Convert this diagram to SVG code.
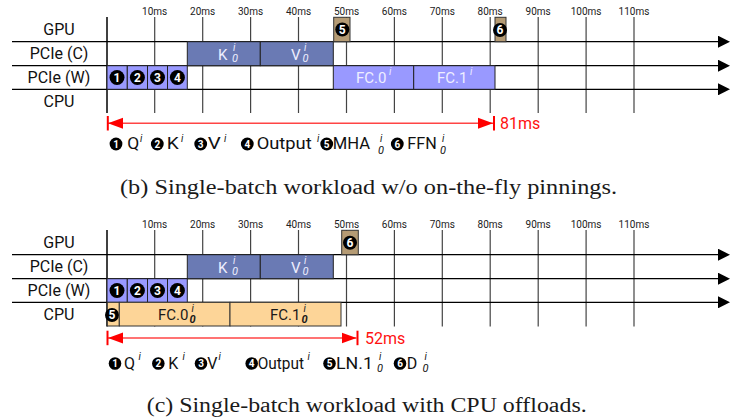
<svg xmlns="http://www.w3.org/2000/svg" width="732" height="420" viewBox="0 0 732 420">
<style>
text{font-family:Roboto,"Liberation Sans",sans-serif}
.tick{font-size:10px;fill:#222;text-anchor:middle}
.row{font-size:16px;fill:#111;text-anchor:middle}
.grid{stroke:#444;stroke-width:1.2}
.axis{stroke:#000;stroke-width:1.5}
.rowline{stroke:#000;stroke-width:1.3;marker-end:url(#ah)}
.pw{fill:#9999ff;stroke:#222;stroke-width:1}
.pc{fill:#6a7ab4;stroke:#222;stroke-width:1}
.gpu{fill:#b59b74;stroke:#333;stroke-width:1}
.cpu{fill:#fdd598;stroke:#333;stroke-width:1}
.num{fill:#fff;font-weight:bold;font-size:12px;text-anchor:middle}
.lnum{fill:#fff;font-weight:bold;font-size:10px;text-anchor:middle}
.wl{fill:#eef;font-size:15px}
.bl{fill:#1a1a1a;font-size:15px}
.leg{font-size:16px;fill:#111}
text.sup{font-size:10px;font-style:italic}
text.sub{font-size:11px;font-style:italic}
text.bsub{font-size:11px;font-style:italic;font-weight:bold}
.red{stroke:#f44;stroke-width:1.5;marker-start:url(#rh);marker-end:url(#rh)}
.bar{stroke:#f00;stroke-width:2}
.redt{fill:#f11;font-size:16px}
.cap{font-family:"Liberation Serif",serif;font-size:20px;fill:#1a1a1a}
</style>
<defs>
<marker id="ah" markerUnits="userSpaceOnUse" markerWidth="12" markerHeight="12" refX="0" refY="6" orient="auto">
<path d="M0,0 L12,6 L0,12 Z" fill="#000"/>
</marker>
<marker id="rh" markerUnits="userSpaceOnUse" markerWidth="15" markerHeight="12" refX="15" refY="6" orient="auto-start-reverse">
<path d="M0,0.5 L15,6 L0,11.5 Z" fill="#f00"/>
</marker>
</defs>

<!-- ===== Chart (b) ===== -->
<g id="axes-b">
<g class="tick">
<text x="154.7" y="14.5">10ms</text><text x="202.7" y="14.5">20ms</text><text x="250.6" y="14.5">30ms</text>
<text x="298.5" y="14.5">40ms</text><text x="346.5" y="14.5">50ms</text><text x="394.4" y="14.5">60ms</text>
<text x="442.3" y="14.5">70ms</text><text x="490.2" y="14.5">80ms</text><text x="538.2" y="14.5">90ms</text>
<text x="586.1" y="14.5">100ms</text><text x="634" y="14.5">110ms</text>
</g>
<g class="grid">
<line x1="154.7" y1="17" x2="154.7" y2="113"/><line x1="202.7" y1="17" x2="202.7" y2="113"/>
<line x1="250.6" y1="17" x2="250.6" y2="113"/><line x1="298.5" y1="17" x2="298.5" y2="113"/>
<line x1="346.5" y1="17" x2="346.5" y2="113"/><line x1="394.4" y1="17" x2="394.4" y2="113"/>
<line x1="442.3" y1="17" x2="442.3" y2="113"/><line x1="490.2" y1="17" x2="490.2" y2="113"/>
<line x1="538.2" y1="17" x2="538.2" y2="113"/><line x1="586.1" y1="17" x2="586.1" y2="113"/>
<line x1="634" y1="17" x2="634" y2="113"/>
</g>
<line class="axis" x1="107" y1="17" x2="107" y2="113"/>
<line class="rowline" x1="12" y1="41.7" x2="718" y2="41.7"/>
<line class="rowline" x1="12" y1="65.7" x2="718" y2="65.7"/>
<line class="rowline" x1="12" y1="89.3" x2="718" y2="89.3"/>
<g class="row">
<text x="59" y="35">GPU</text><text x="59" y="59.3">PCIe (C)</text>
<text x="59" y="83.3">PCIe (W)</text><text x="59" y="106.7">CPU</text>
</g>
</g>

<g id="b-w1"><rect class="pw" x="107" y="65.7" width="20.3" height="23.6"/><circle cx="117" cy="77.5" r="7.5"/><text class="num" x="117" y="81.8">1</text></g>
<g id="b-w2"><rect class="pw" x="127.3" y="65.7" width="20.2" height="23.6"/><circle cx="137.4" cy="77.5" r="7.5"/><text class="num" x="137.4" y="81.8">2</text></g>
<g id="b-w3"><rect class="pw" x="147.5" y="65.7" width="20" height="23.6"/><circle cx="157.5" cy="77.5" r="7.5"/><text class="num" x="157.5" y="81.8">3</text></g>
<g id="b-w4"><rect class="pw" x="167.5" y="65.7" width="19.8" height="23.6"/><circle cx="177.4" cy="77.5" r="7.5"/><text class="num" x="177.4" y="81.8">4</text></g>
<g id="b-k"><rect class="pc" x="187.3" y="41.7" width="73" height="24"/><text class="wl" x="218" y="59.5">K</text><text class="wl sup" x="233" y="51">i</text><text class="wl sub" x="232" y="62">0</text></g>
<g id="b-v"><rect class="pc" x="260.3" y="41.7" width="73" height="24"/><text class="wl" x="291" y="59.5">V</text><text class="wl sup" x="304" y="51">i</text><text class="wl sub" x="302.5" y="62">0</text></g>
<g id="b-fc0"><rect class="pw" x="333.3" y="65.7" width="80.4" height="23.6"/><text class="wl" x="356" y="83">FC.0</text><text class="wl sup" x="389" y="75">i</text></g>
<g id="b-fc1"><rect class="pw" x="413.7" y="65.7" width="81.3" height="23.6"/><text class="wl" x="437" y="83">FC.1</text><text class="wl sup" x="470" y="75">i</text></g>
<g id="b-g5"><rect class="gpu" x="333.7" y="17.3" width="16.3" height="24.4"/><circle cx="342.3" cy="29.5" r="7"/><text class="num" x="342.3" y="33.8">5</text></g>
<g id="b-g6"><rect class="gpu" x="495" y="17.3" width="11" height="24.4"/><circle cx="500" cy="30" r="7"/><text class="num" x="500" y="34.3">6</text></g>

<g id="connectors">
<line class="red" x1="108" y1="123.3" x2="493" y2="123.3"/>
<line class="bar" x1="107.8" y1="116" x2="107.8" y2="130.5"/>
<line class="bar" x1="494" y1="116" x2="494" y2="130.5"/>
<line class="red" x1="108" y1="338" x2="356.5" y2="338"/>
<line class="bar" x1="107.5" y1="330.7" x2="107.5" y2="345.2"/>
<line class="bar" x1="357.5" y1="330.7" x2="357.5" y2="345.2"/>
</g>
<text class="redt" x="500" y="129">81ms</text>
<text class="redt" x="365" y="343.5">52ms</text>

<g id="legend-b">
<circle cx="116" cy="144" r="6.4"/><text class="lnum" x="116" y="147.6">1</text>
<text class="leg" x="127.3" y="149" textLength="12" lengthAdjust="spacingAndGlyphs">Q</text><text class="leg sup" x="140" y="142">i</text>
<circle cx="157.3" cy="144" r="6.4"/><text class="lnum" x="157.3" y="147.6">2</text>
<text class="leg" x="166.7" y="149" textLength="12" lengthAdjust="spacingAndGlyphs">K</text><text class="leg sup" x="181" y="142">i</text>
<circle cx="200.7" cy="144" r="6.4"/><text class="lnum" x="200.7" y="147.6">3</text>
<text class="leg" x="207.7" y="149" textLength="13" lengthAdjust="spacingAndGlyphs">V</text><text class="leg sup" x="224" y="142">i</text>
<circle cx="247.3" cy="144" r="6.4"/><text class="lnum" x="247.3" y="147.6">4</text>
<text class="leg" x="256.7" y="149" textLength="55" lengthAdjust="spacingAndGlyphs">Output</text><text class="leg sup" x="317" y="142">i</text>
<circle cx="326.7" cy="144" r="6.4"/><text class="lnum" x="326.7" y="147.6">5</text>
<text class="leg" x="332.7" y="149" textLength="37.3" lengthAdjust="spacingAndGlyphs">MHA</text><text class="leg sup" x="380" y="142">i</text><text class="leg sub" x="378" y="153.5">0</text>
<circle cx="397.3" cy="144" r="6.4"/><text class="lnum" x="397.3" y="147.6">6</text>
<text class="leg" x="407.3" y="149" textLength="29.4" lengthAdjust="spacingAndGlyphs">FFN</text><text class="leg sup" x="442" y="142">i</text><text class="leg sub" x="440" y="153.5">0</text>
</g>

<text class="cap" x="120" y="194" textLength="497" lengthAdjust="spacingAndGlyphs">(b) Single-batch workload w/o on-the-fly pinnings.</text>

<!-- ===== Chart (c) ===== -->
<g id="axes-c">
<g class="tick">
<text x="154.7" y="227.5">10ms</text><text x="202.7" y="227.5">20ms</text><text x="250.6" y="227.5">30ms</text>
<text x="298.5" y="227.5">40ms</text><text x="346.5" y="227.5">50ms</text><text x="394.4" y="227.5">60ms</text>
<text x="442.3" y="227.5">70ms</text><text x="490.2" y="227.5">80ms</text><text x="538.2" y="227.5">90ms</text>
<text x="586.1" y="227.5">100ms</text><text x="634" y="227.5">110ms</text>
</g>
<g class="grid">
<line x1="154.7" y1="230" x2="154.7" y2="326.5"/><line x1="202.7" y1="230" x2="202.7" y2="326.5"/>
<line x1="250.6" y1="230" x2="250.6" y2="326.5"/><line x1="298.5" y1="230" x2="298.5" y2="326.5"/>
<line x1="346.5" y1="230" x2="346.5" y2="326.5"/><line x1="394.4" y1="230" x2="394.4" y2="326.5"/>
<line x1="442.3" y1="230" x2="442.3" y2="326.5"/><line x1="490.2" y1="230" x2="490.2" y2="326.5"/>
<line x1="538.2" y1="230" x2="538.2" y2="326.5"/><line x1="586.1" y1="230" x2="586.1" y2="326.5"/>
<line x1="634" y1="230" x2="634" y2="326.5"/>
</g>
<line class="axis" x1="107" y1="230" x2="107" y2="326.5"/>
<line class="rowline" x1="12" y1="254.7" x2="718" y2="254.7"/>
<line class="rowline" x1="12" y1="278.7" x2="718" y2="278.7"/>
<line class="rowline" x1="12" y1="302.3" x2="718" y2="302.3"/>
<g class="row">
<text x="59" y="248">GPU</text><text x="59" y="272.3">PCIe (C)</text>
<text x="59" y="296.3">PCIe (W)</text><text x="59" y="319.7">CPU</text>
</g>
</g>

<g id="c-w1"><rect class="pw" x="107" y="278.7" width="20.3" height="23.6"/><circle cx="117" cy="290.5" r="7.5"/><text class="num" x="117" y="294.8">1</text></g>
<g id="c-w2"><rect class="pw" x="127.3" y="278.7" width="20.2" height="23.6"/><circle cx="137.4" cy="290.5" r="7.5"/><text class="num" x="137.4" y="294.8">2</text></g>
<g id="c-w3"><rect class="pw" x="147.5" y="278.7" width="20" height="23.6"/><circle cx="157.5" cy="290.5" r="7.5"/><text class="num" x="157.5" y="294.8">3</text></g>
<g id="c-w4"><rect class="pw" x="167.5" y="278.7" width="19.8" height="23.6"/><circle cx="177.4" cy="290.5" r="7.5"/><text class="num" x="177.4" y="294.8">4</text></g>
<g id="c-k"><rect class="pc" x="187.3" y="254.7" width="73" height="24"/><text class="wl" x="218" y="272.5">K</text><text class="wl sup" x="233" y="264">i</text><text class="wl sub" x="232" y="275">0</text></g>
<g id="c-v"><rect class="pc" x="260.3" y="254.7" width="73" height="24"/><text class="wl" x="291" y="272.5">V</text><text class="wl sup" x="304" y="264">i</text><text class="wl sub" x="302.5" y="275">0</text></g>
<g id="c-g6"><rect class="gpu" x="341.7" y="230.3" width="16.6" height="24.4"/><circle cx="350" cy="242.7" r="7"/><text class="num" x="350" y="247">6</text></g>
<g id="c-c5"><rect class="cpu" x="107.3" y="302.3" width="12" height="23.7"/><circle cx="112" cy="315" r="7"/><text class="num" x="112" y="319.3">5</text></g>
<g id="c-fc0"><rect class="cpu" x="119.3" y="302.3" width="110.7" height="23.7"/><text class="bl" x="158" y="320">FC.0</text><text class="bl sup" x="191.5" y="311.5">i</text><text class="bl bsub" x="189.5" y="323.3">0</text></g>
<g id="c-fc1"><rect class="cpu" x="230" y="302.3" width="111" height="23.7"/><text class="bl" x="270" y="320">FC.1</text><text class="bl sup" x="303.5" y="311.5">i</text><text class="bl bsub" x="301.5" y="323.3">0</text></g>

<g id="legend-c">
<circle cx="115" cy="363.5" r="6.3"/><text class="lnum" x="115" y="367.1">1</text>
<text class="leg" x="124" y="369.3">Q</text><text class="leg sup" x="138.5" y="360">i</text>
<circle cx="158.3" cy="363.5" r="6.3"/><text class="lnum" x="158.3" y="367.1">2</text>
<text class="leg" x="168.3" y="369.3">K</text><text class="leg sup" x="182.5" y="360">i</text>
<circle cx="201" cy="363.5" r="6.3"/><text class="lnum" x="201" y="367.1">3</text>
<text class="leg" x="207.3" y="369.3">V</text><text class="leg sup" x="218.5" y="360">i</text>
<circle cx="251.7" cy="363.5" r="6.3"/><text class="lnum" x="251.7" y="367.1">4</text>
<text class="leg" x="257.7" y="369.3" textLength="46.3" lengthAdjust="spacingAndGlyphs">Output</text><text class="leg sup" x="307.5" y="360">i</text>
<circle cx="329.5" cy="363.5" r="6.3"/><text class="lnum" x="329.5" y="367.1">5</text>
<text class="leg" x="336" y="369.3" textLength="37" lengthAdjust="spacingAndGlyphs">LN.1</text><text class="leg sup" x="379" y="359.5">i</text><text class="leg sub" x="377" y="372">0</text>
<circle cx="400" cy="363.5" r="6.3"/><text class="lnum" x="400" y="367.1">6</text>
<text class="leg" x="406.7" y="369.3">D</text><text class="leg sup" x="424.5" y="359.5">i</text><text class="leg sub" x="422.5" y="372">0</text>
</g>

<text class="cap" x="146.7" y="411.5" textLength="440" lengthAdjust="spacingAndGlyphs">(c) Single-batch workload with CPU offloads.</text>
</svg>
